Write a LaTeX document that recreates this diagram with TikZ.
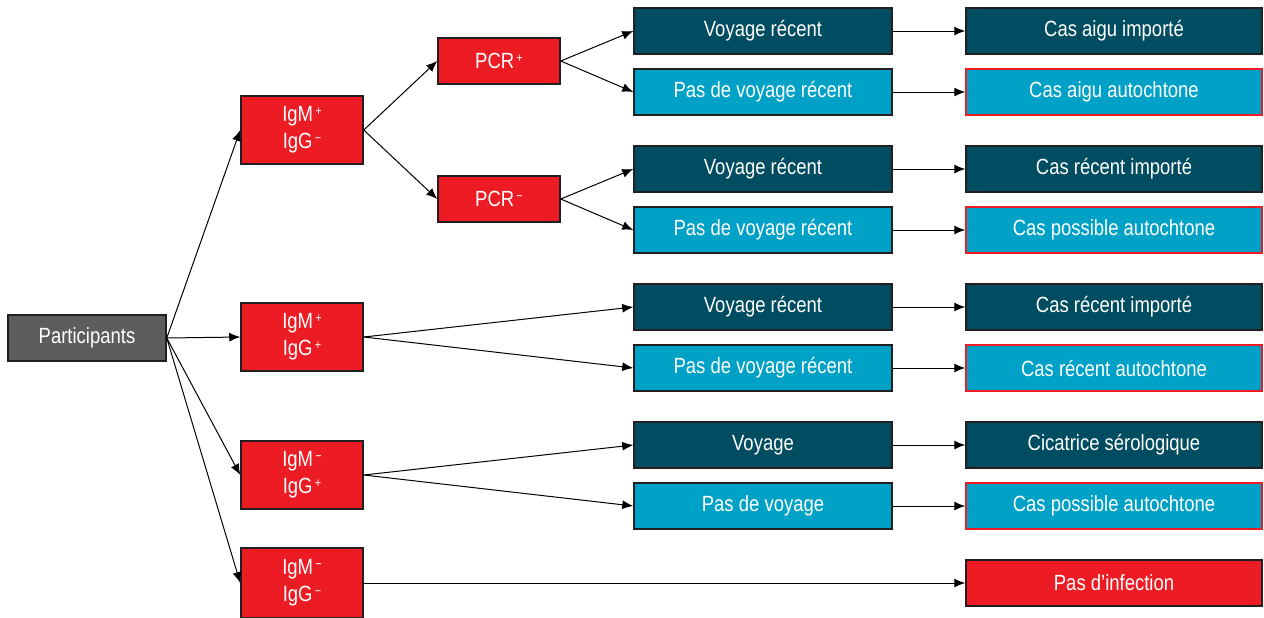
\documentclass[tikz,border=0pt]{standalone}
\usepackage{fontspec}
\setmainfont{Liberation Sans}[FakeStretch=0.84]
\usetikzlibrary{arrows.meta}
\definecolor{cred}{RGB}{237,28,36}
\definecolor{cdark}{RGB}{0,76,96}
\definecolor{clight}{RGB}{0,161,198}
\definecolor{cgray}{RGB}{93,93,95}
\definecolor{cline}{RGB}{35,31,32}
\newcommand{\myexp}[1]{\raisebox{0.55ex}{\fontsize{6.5}{7}\selectfont\,#1}}
\begin{document}
\begin{tikzpicture}[x=0.5pt,y=-0.5pt,
  box/.style={draw=cline,line width=0.75pt,text=white,inner sep=0pt,align=center,
    font=\fontsize{11}{13.5}\selectfont,minimum height=23pt},
  grey/.style={box,fill=cgray,minimum width=79pt},
  ig/.style={box,fill=cred,minimum width=61pt,minimum height=34pt},
  pcr/.style={box,fill=cred,minimum width=61pt},
  darkb/.style={box,fill=cdark,minimum width=129pt},
  lightb/.style={box,fill=clight,minimum width=129pt},
  rdark/.style={box,fill=cdark,minimum width=148pt},
  rlight/.style={box,fill=clight,draw=cred,minimum width=148pt},
  rred/.style={box,fill=cred,minimum width=148pt},
  arr/.style={draw=black,line width=0.5pt,-{Latex[length=5.5pt,width=4.5pt]}}]
\useasboundingbox (0,0) rectangle (1264,617);
\node[grey] (p) at (87,338) {Participants};
\node[ig] (a) at (302,130) {IgM\myexp{+}\\IgG\myexp{−}};
\node[ig] (b) at (302,337) {IgM\myexp{+}\\IgG\myexp{+}};
\node[ig] (c) at (302,475) {IgM\myexp{−}\\IgG\myexp{+}};
\node[ig,minimum height=35pt] (d) at (302,583) {IgM\myexp{−}\\IgG\myexp{−}};
\node[pcr] (pp) at (499,61) {PCR\myexp{+}};
\node[pcr] (pm) at (499,199) {PCR\myexp{−}};
\node[darkb] (m1) at (763,31) {Voyage récent};
\node[lightb] (m2) at (763,92) {Pas de voyage récent};
\node[darkb] (m3) at (763,169) {Voyage récent};
\node[lightb] (m4) at (763,230) {Pas de voyage récent};
\node[darkb] (m5) at (763,307) {Voyage récent};
\node[lightb] (m6) at (763,368) {Pas de voyage récent};
\node[darkb] (m7) at (763,445) {Voyage};
\node[lightb] (m8) at (763,506) {Pas de voyage};
\node[rdark] (r1) at (1114,31) {Cas aigu importé};
\node[rlight] (r2) at (1114,92) {Cas aigu autochtone};
\node[rdark] (r3) at (1114,169) {Cas récent importé};
\node[rlight] (r4) at (1114,230) {Cas possible autochtone};
\node[rdark] (r5) at (1114,307) {Cas récent importé};
\node[rlight] (r6) at (1114,368) {Cas récent autochtone};
\node[rdark] (r7) at (1114,445) {Cicatrice sérologique};
\node[rlight] (r8) at (1114,506) {Cas possible autochtone};
\node[rred] (r9) at (1114,583) {Pas d’infection};
\foreach \t in {a,b,c,d} \draw[arr] (p.east) -- (\t.west);
\draw[arr] (a.east) -- (pp.west);
\draw[arr] (a.east) -- (pm.west);
\draw[arr] (pp.east) -- (m1.west);
\draw[arr] (pp.east) -- (m2.west);
\draw[arr] (pm.east) -- (m3.west);
\draw[arr] (pm.east) -- (m4.west);
\draw[arr] (b.east) -- (m5.west);
\draw[arr] (b.east) -- (m6.west);
\draw[arr] (c.east) -- (m7.west);
\draw[arr] (c.east) -- (m8.west);
\draw[arr] (d.east) -- (r9.west);
\foreach \i in {1,...,8} \draw[arr] (m\i.east) -- (r\i.west);
\end{tikzpicture}
\end{document}
